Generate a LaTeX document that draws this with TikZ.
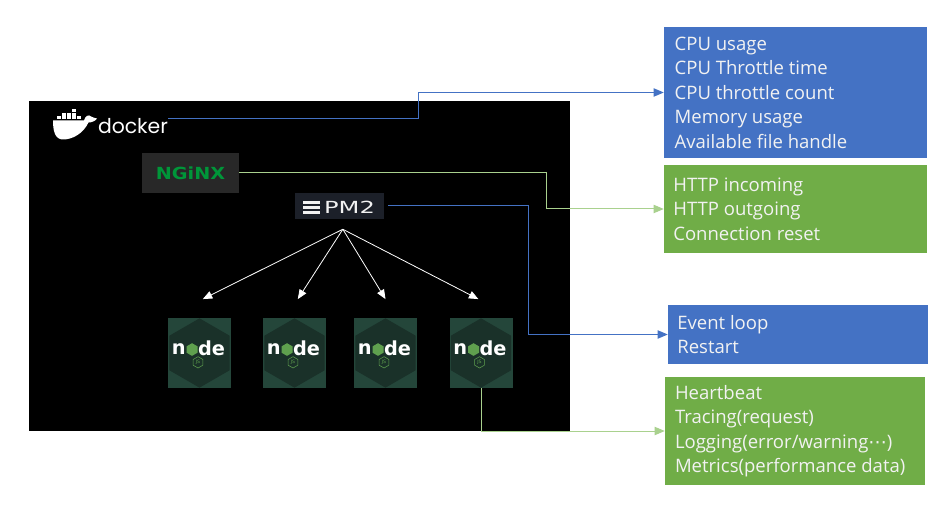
\documentclass[tikz,border=0pt]{standalone}
\usepackage{fontspec}
\setmainfont{Open Sans}
\newfontfamily\logofont{Poppins}
\newfontfamily\pmfont[FakeStretch=1.45]{DejaVu Sans}
\newfontfamily\nxfont[FakeStretch=1.15]{DejaVu Sans}
\newfontfamily\nodefont{DejaVu Sans}
\usepackage{tikz}
\usetikzlibrary{arrows,shapes,positioning}
\definecolor{mtblue}{HTML}{4472C4}
\definecolor{mtgreen}{HTML}{70AD47}
\definecolor{lineblue}{HTML}{4472C4}
\definecolor{linegreen}{HTML}{A9D18E}
\definecolor{nxgreen}{HTML}{009639}
\definecolor{nxgray}{HTML}{282828}
\definecolor{pmgray}{HTML}{1C2029}
\definecolor{jsdark}{HTML}{24463A}
\definecolor{jshex}{HTML}{1A3129}
\definecolor{jsgreen}{HTML}{5FA04E}
\definecolor{txtwhite}{HTML}{F2F2F2}
\tikzstyle{bluearrow} = [->,>=triangle 45,color=lineblue,line width=0.75pt]
\tikzstyle{greenarrow} = [->,>=triangle 45,color=linegreen,line width=0.75pt]
\tikzstyle{fanarrow} = [->,>=triangle 45,color=white,line width=0.6pt]
\tikzstyle{metric} = [rectangle, inner sep=0pt]
\tikzstyle{metrictext} = [anchor=west, align=left, inner sep=0pt, text=txtwhite, font=\fontsize{13.9}{18.4}\selectfont]
\tikzstyle{jsbox} = [rectangle, fill=jsdark, minimum width=47.25pt, minimum height=52.5pt, inner sep=0pt]
\tikzstyle{hexa} = [regular polygon, regular polygon sides=6, shape border rotate=30, inner sep=0pt]

\begin{document}
\begin{tikzpicture}[x=0.75pt, y=-0.75pt]
    \useasboundingbox (0,0) rectangle (941,513);
    \fill[white] (0,0) rectangle (941,513);
    % Host panel
    \fill[black] (29,101) rectangle (570,431);

    % Docker
    \foreach \cx/\cy in {57/116.5, 62/116.5, 67/116.5, 72/116.5, 77/116.5, 62/113, 67/113, 72/113, 72/109.5}
        \fill[white] (\cx,\cy) rectangle ++(4.2,3);
    \fill[white] (53,120.5) -- (84,120.5) .. controls (85,116) and (89,114) .. (91,116.5)
        .. controls (93,118) and (96,118) .. (97,118.5) .. controls (95,121.5) and (91,122.5) .. (88.5,122.5)
        .. controls (83,134) and (72,139.5) .. (63,139.5) .. controls (55,139.5) and (53,131) .. (53,120.5) -- cycle;
    \node[text=white, font=\logofont\fontsize{15.3}{15.3}\selectfont, inner sep=0pt] (docker) at (133,126) {docker};

    % Nginx
    \node[rectangle, fill=nxgray, minimum width=72.75pt, minimum height=30pt, inner sep=0pt] (nginx) at (190.5,173) {};
    \node[text=nxgreen, font=\nxfont\bfseries\fontsize{12.5}{12.5}\selectfont] at (nginx.center) {NGiNX};

    % PM2
    \node[rectangle, fill=pmgray, minimum width=66.75pt, minimum height=19.5pt, inner sep=0pt] (pm2) at (339.5,206) {};
    \foreach \by in {201.5,206.5,211.5}
        \fill[white!90!gray] (303,\by) rectangle (320,\by+2.4);
    \node[text=white!90!gray, font=\pmfont\fontsize{12.5}{12.5}\selectfont, inner sep=0pt] at (349.5,207.5) {PM2};

    % Node.js workers
    \foreach \i/\x in {1/199.5, 2/294.5, 3/385.5, 4/481} {
        \node[jsbox] (n\i) at (\x,353) {};
        \node[hexa, minimum size=52pt, fill=jshex] at (n\i) {};
        \node[text=white, font=\nodefont\bfseries\fontsize{14.5}{14.5}\selectfont, inner sep=0pt] at ([xshift=-15.5pt,yshift=3.3pt]n\i.center) {n};
        \node[hexa, minimum size=9.5pt, fill=jsgreen] at ([xshift=-5.6pt,yshift=2.6pt]n\i.center) {};
        \node[text=white, font=\nodefont\bfseries\fontsize{14.5}{14.5}\selectfont, inner sep=0pt] at ([xshift=9pt,yshift=3.3pt]n\i.center) {de};
        \node[hexa, minimum size=8.5pt, draw=jsgreen, line width=0.4pt, text=jsgreen, font=\nodefont\fontsize{3.5}{3.5}\selectfont] at ([xshift=-1.1pt,yshift=-7pt]n\i.center) {JS};
    }

    % Fan out from PM2
    \coordinate (fan) at ([xshift=2.5pt,yshift=-7.5pt]pm2.south);
    \foreach \i/\dx in {1/2.5, 2/2.5, 3/0, 4/-2}
        \draw[fanarrow] (fan) -- ([xshift=\dx pt, yshift=14pt]n\i.north);

    % Metrics
    \node[metric, fill=mtblue, minimum width=197.25pt, minimum height=98.25pt] (cpu) at (795.5,92.5) {};
    \node[metrictext] at ([xshift=8pt]cpu.west) {CPU usage\\CPU Throttle time\\CPU throttle count\\Memory usage\\Available file handle};
    \node[metric, fill=mtgreen, minimum width=197.25pt, minimum height=66pt] (http) at (795.5,209) {};
    \node[metrictext] at ([xshift=7pt]http.west) {HTTP incoming\\HTTP outgoing\\Connection reset};
    \node[metric, fill=mtblue, minimum width=195pt, minimum height=44.25pt] (event) at (798,334.5) {};
    \node[metrictext] at ([xshift=7pt]event.west) {Event loop\\Restart};
    \node[metric, fill=mtgreen, minimum width=195pt, minimum height=81pt] (heart) at (795,431) {};
    \node[metrictext] at ([xshift=7.5pt]heart.west) {Heartbeat\\Tracing(request)\\Logging(error/warning{\nodefont ⋯})\\Metrics(performance data)};

    % Connectors
    \draw[bluearrow] ([yshift=5.25pt]docker.east) -- ++(250,0) |- (cpu.west);
    \draw[greenarrow] (nginx.east) -- ++(307,0) |- (http.west);
    \draw[bluearrow] ([xshift=3pt]pm2.east) -- ++(140,0) |- (event.west);
    \draw[greenarrow] (n4.south) |- (heart.west);
\end{tikzpicture}
\end{document}
